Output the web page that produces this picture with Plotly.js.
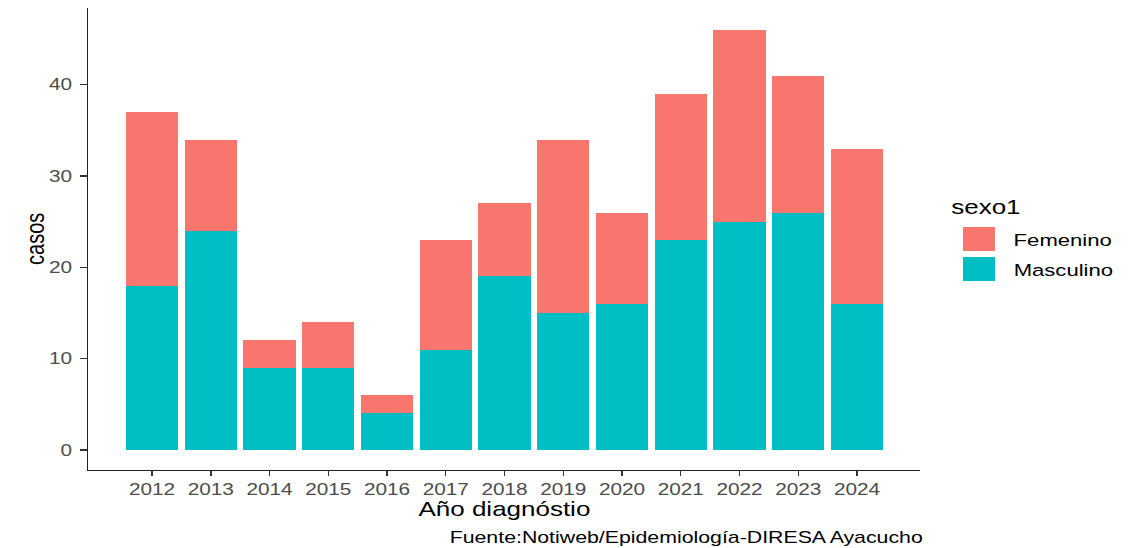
<!DOCTYPE html>
<html>
<head>
<meta charset="utf-8">
<script src="https://cdn.plot.ly/plotly-3.0.1.min.js"></script>
<style>
  html, body { margin: 0; padding: 0; background: #ffffff; overflow: hidden; }
  #chart { width: 868px; height: 548px; transform: scaleX(1.2995); transform-origin: 0 0; }
</style>
</head>
<body>
<div id="chart"></div>
<script>
// ---- data ----
const years = ["2012","2013","2014","2015","2016","2017","2018","2019","2020","2021","2022","2023","2024"];
const masculino = [18, 24, 9, 9, 4, 11, 19, 15, 16, 23, 25, 26, 16];
const femenino  = [19, 10, 3, 5, 2, 12, 8, 19, 10, 16, 21, 15, 17];
const yTicks = [0, 10, 20, 30, 40];
const seriesNames = ["Femenino", "Masculino"];
const legendTitle = "sexo1";
const xTitle = "Año diagnóstio";
const yTitle = "casos";
const caption = "Fuente:Notiweb/Epidemiología-DIRESA Ayacucho";

// ---- styling / geometry ----
const COL_F = "#F8766D", COL_M = "#00BFC4";
const FONT = "Liberation Sans, Arial, Helvetica, sans-serif";
const S = 1128 / 868;           // horizontal stretch
const L = 68, R = 160, T = 8, B = 78;
const PW = 868 - L - R, PH = 548 - T - B;
const px = X => (X / S - L) / PW;          // image x -> paper x
const py = Y => ((548 - B) - Y) / PH;      // image y -> paper y

const traces = [
  { type: "bar", name: seriesNames[1], x: years, y: masculino,
    marker: { color: COL_M, line: { width: 0 } }, showlegend: false, hoverinfo: "x+y+name" },
  { type: "bar", name: seriesNames[0], x: years, y: femenino,
    marker: { color: COL_F, line: { width: 0 } }, showlegend: false, hoverinfo: "x+y+name" }
];

const layout = {
  width: 868, height: 548,
  margin: { l: L, r: R, t: T, b: B, pad: 0 },
  paper_bgcolor: "#ffffff", plot_bgcolor: "#ffffff",
  barmode: "stack", bargap: 0.11,
  showlegend: false,
  font: { family: FONT, color: "#000000" },
  xaxis: {
    type: "category", range: [-1.084, 13.073],
    showline: true, linecolor: "#222222", linewidth: 1.3,
    ticks: "outside", ticklen: 5, tickwidth: 1.1, tickcolor: "#333333",
    showgrid: false, zeroline: false, fixedrange: true,
    tickfont: { family: FONT, size: 16, color: "#4D4D4D" }
  },
  yaxis: {
    range: [-2.19, 48.4], tickvals: yTicks,
    showline: true, linecolor: "#222222", linewidth: 1.3,
    ticks: "outside", ticklen: 5, tickwidth: 1.1, tickcolor: "#333333",
    ticklabelstandoff: 3,
    showgrid: false, zeroline: false, fixedrange: true,
    tickfont: { family: FONT, size: 16, color: "#4D4D4D" }
  },
  shapes: [
    { type: "rect", xref: "paper", yref: "paper", x0: px(963), x1: px(995), y0: py(251), y1: py(227),
      fillcolor: COL_F, line: { width: 0 } },
    { type: "rect", xref: "paper", yref: "paper", x0: px(963), x1: px(995), y0: py(281), y1: py(257),
      fillcolor: COL_M, line: { width: 0 } }
  ],
  annotations: [
    { text: xTitle, xref: "paper", yref: "paper", x: 0.5, y: py(509), xanchor: "center", yanchor: "middle",
      showarrow: false, font: { family: FONT, size: 20, color: "#000000" } },
    { text: yTitle, xref: "paper", yref: "paper", x: px(35), y: 0.5, xanchor: "center", yanchor: "middle",
      textangle: -90, showarrow: false, font: { family: FONT, size: 20, color: "#000000" } },
    { text: caption, xref: "paper", yref: "paper", x: px(925), y: py(537), xanchor: "right", yanchor: "middle",
      showarrow: false, font: { family: FONT, size: 16.4, color: "#000000" } },
    { text: legendTitle, xref: "paper", yref: "paper", x: px(949), y: py(207), xanchor: "left", yanchor: "middle",
      showarrow: false, font: { family: FONT, size: 20, color: "#000000" } },
    { text: seriesNames[0], xref: "paper", yref: "paper", x: px(1011), y: py(240), xanchor: "left", yanchor: "middle",
      showarrow: false, font: { family: FONT, size: 17, color: "#000000" } },
    { text: seriesNames[1], xref: "paper", yref: "paper", x: px(1011), y: py(270), xanchor: "left", yanchor: "middle",
      showarrow: false, font: { family: FONT, size: 17, color: "#000000" } }
  ]
};

Plotly.newPlot("chart", traces, layout, { displayModeBar: false, staticPlot: true });
</script>
</body>
</html>
